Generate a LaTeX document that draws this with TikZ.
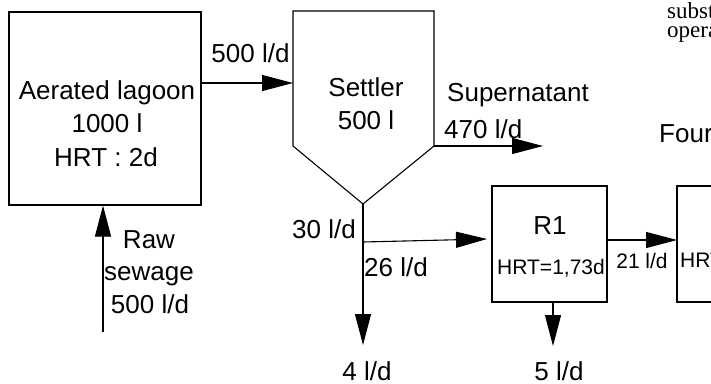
\documentclass[tikz,border=0pt]{standalone}
\usepackage{fontspec}
\setmainfont{Liberation Sans}
\newfontfamily\serifone{Liberation Serif}
\usetikzlibrary{arrows.meta}
\tikzset{
  line/.style={line width=1.1pt, draw=black},
  arr/.style={line, -{Triangle[length=31pt,width=16pt]}},
  box/.style={line, rectangle, inner sep=0pt},
  lbl/.style={inner sep=0pt, font=\fontsize{26}{30}\selectfont},
  sml/.style={inner sep=0pt, font=\fontsize{21}{25}\selectfont},
  srf/.style={inner sep=0pt, font=\serifone\fontsize{23}{26}\selectfont},
}
\begin{document}
\begin{tikzpicture}[x=1pt,y=-1pt]
\useasboundingbox (0,0) rectangle (711,383);
\clip (0,0) rectangle (711,383);
\fill[white] (0,0) rectangle (711,383);

% boxes
\node[box, minimum width=192pt, minimum height=193pt] (lagoon) at (105,108.5) {};
\node[box, minimum width=115pt, minimum height=116pt] (r1) at (549.5,244) {};
\node[box, minimum width=123pt, minimum height=116pt] (r2) at (738.5,244) {};

% settler
\coordinate (stl) at (293,11);
\coordinate (str) at (434,11);
\coordinate (sbr) at (434,146);
\coordinate (sbot) at (363,204);
\coordinate (sbl) at (293,146);
\draw[line] (stl) -- (str) -- (sbr) -- (sbot) -- (sbl) -- cycle;

% connector end points
\coordinate (sIn) at (293,83);
\coordinate (supEnd) at (543,146);
\coordinate (sludge) at (363,345);
\coordinate (br) at (363,242);
\coordinate (r1in) at (487,239);
\coordinate (r1out) at (553,346);
\coordinate (r1r) at (607,240);
\coordinate (r2in) at (677,240);
\coordinate (rawStart) at (103,332);

% connectors
\draw[arr] (lagoon.east |- sIn) -- (sIn);
\draw[arr] (sbr) -- (supEnd);
\draw[arr] (sbot) -- (sludge);
\draw[arr] (br) -- (r1in);
\draw[arr] (r1.south -| r1out) -- (r1out);
\draw[arr] (r1r) -- (r2in);
\draw[arr] (rawStart) -- (lagoon.south -| rawStart);

% texts
\node[lbl, anchor=base] (t1) at (250.5,62) {500 l/d};
\node[lbl, anchor=base] (t2) at (107,99) {Aerated lagoon};
\node[lbl, anchor=base] (t3) at (107,132) {1000 l};
\node[lbl, anchor=base] (t4) at (106,166) {HRT : 2d};
\node[lbl, anchor=base] (t5) at (366,96) {Settler};
\node[lbl, anchor=base] (t6) at (366,129) {500 l};
\node[lbl, anchor=base west] (t7) at (447,101) {Supernatant};
\node[lbl, anchor=base west] (t8) at (444,138) {470 l/d};
\node[lbl, anchor=base west] (t9) at (659,142) {Four};
\node[srf, anchor=base west] (t10) at (667,18) {subst};
\node[srf, anchor=base west] (t11) at (667,37) {opera};
\node[lbl, anchor=base] (t12) at (149,248) {Raw};
\node[lbl, anchor=base] (t13) at (149,280) {sewage};
\node[lbl, anchor=base] (t14) at (150,313) {500 l/d};
\node[lbl, anchor=base] (t15) at (324,238) {30 l/d};
\node[lbl, anchor=base west] (t16) at (364,276) {26 l/d};
\node[lbl, anchor=base] (t17) at (367,380) {4 l/d};
\node[lbl, anchor=base] (t18) at (559,380) {5 l/d};
\node[lbl, anchor=base] (t19) at (550,234) {R1};
\node[sml, anchor=base] (t20) at (551,274) {HRT=1,73d};
\node[sml, anchor=base] (t21) at (642,268) {21 l/d};
\node[sml, anchor=base west] (t22) at (680,267) {HRT};
\end{tikzpicture}
\end{document}
